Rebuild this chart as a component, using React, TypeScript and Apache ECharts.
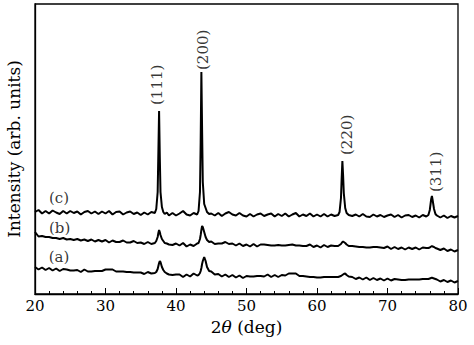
import React, { useEffect, useRef } from "react";
import * as echarts from "echarts";

const twoTheta = [
  20, 20.5, 21, 21.5, 22, 22.5, 23, 23.5, 24, 24.5, 25, 25.5, 26, 26.5, 27, 27.5, 28, 28.5, 29, 29.5,
  30, 30.5, 31, 31.5, 32, 32.5, 33, 33.5, 34, 34.5, 35, 35.5, 36, 36.5,
  37, 37.2, 37.4, 37.5, 37.6, 37.7, 37.8, 38, 38.2, 38.4, 38.7,
  39, 39.5, 40, 40.5, 41, 41.5, 42, 42.5, 43,
  43.2, 43.4, 43.5, 43.6, 43.7, 43.8, 44, 44.2, 44.4, 44.7,
  45, 45.5, 46, 46.5, 47, 47.5, 48, 48.5, 49, 49.5, 50, 50.5, 51, 51.5, 52, 52.5, 53, 53.5,
  54, 54.5, 55, 55.5, 56, 56.5, 57, 57.5, 58, 58.5, 59, 59.5, 60, 60.5, 61, 61.5, 62, 62.5,
  63, 63.2, 63.4, 63.5, 63.6, 63.7, 63.8, 64, 64.2, 64.5,
  65, 65.5, 66, 66.5, 67, 67.5, 68, 68.5, 69, 69.5, 70, 70.5, 71, 71.5, 72, 72.5, 73, 73.5,
  74, 74.5, 75, 75.5,
  75.8, 76, 76.2, 76.3, 76.4, 76.6, 76.8,
  77, 77.5, 78, 78.5, 79, 79.5, 80,
];

const intensityC = [
  82, 84, 80.5, 83, 80.5, 83.5, 81.5, 80, 83, 80.5, 83, 81, 82.5, 79.5, 82, 83, 80.5, 82.5, 80, 82.5,
  80.5, 83, 79.5, 82, 82.5, 79.5, 81.5, 82.5, 80, 81.5, 79, 81.5, 79.5, 82,
  81, 85, 102, 142, 183, 138, 102, 87, 82, 80, 81.5,
  78.5, 81, 78.5, 80.5, 83, 79.5, 78.5, 81, 79.5,
  83, 102, 152, 222, 165, 112, 90, 86, 82, 80,
  80.5, 78.5, 81, 78, 80.5, 82, 79.5, 78.5, 81, 78.5, 77.5, 80, 77.5, 79.5, 80.5, 78, 79.5, 80.5,
  77.5, 80, 78, 80.5, 77.5, 79.5, 81, 77.5, 79.5, 78, 80.5, 77.5, 79.5, 77.5, 80, 77.5, 79.5, 78,
  79, 82, 96, 116, 133, 119, 101, 86, 81, 79,
  78, 79.5, 77.5, 80, 77.5, 77, 79.5, 77.5, 79, 77, 78.5, 79.5, 77, 79, 76.5, 78.5, 79, 77,
  78.5, 76.5, 79, 77.5,
  79, 84, 95, 98, 94, 85, 80,
  78.5, 76.5, 78.5, 76, 78, 76.5, 78,
];

const intensityB = [
  62, 57.5, 58, 57, 57, 56, 56, 55, 56, 54.5, 55, 54, 55, 53.5, 54.5, 53, 54.5, 52.5, 54, 52.5,
  54, 51.5, 53.5, 52, 52, 53.5, 51.5, 51.5, 53, 51, 51.5, 50, 52, 50,
  51, 53, 57, 61, 64, 62, 59, 55, 53, 51, 50.5,
  49.5, 49, 50.5, 48.5, 51, 47.5, 49.5, 48, 50.5,
  51, 55, 59, 64, 68, 67, 62, 57, 54, 52,
  52.5, 50, 50.5, 50.5, 52, 50, 50.5, 48.5, 50.5, 48, 49.5, 47.5, 50, 47.5, 49.5, 49.5, 49, 48.5,
  48.5, 49, 48.5, 48.5, 49, 49.5, 48.5, 48.5, 48, 48, 49.5, 47, 48.5, 46.5, 49, 47, 48.5, 48,
  48, 49, 50, 51, 52, 52.5, 52, 51, 49.5, 48,
  48, 47.5, 47, 47, 46.5, 46.5, 47, 47, 46.5, 46, 47.5, 45, 47, 45, 46.5, 44.5, 46.5, 45,
  46.5, 44.5, 46.5, 46,
  46, 46.5, 47.5, 48, 47.5, 47, 46,
  45.5, 44, 45.5, 43, 44.5, 42.5, 44,
];

const intensityA = [
  27, 24.5, 26.5, 24, 26, 23.5, 25.5, 23, 25, 24.5, 23.5, 23.5, 24, 22, 24.5, 22.5, 22.5, 23, 23, 23,
  24.5, 24.5, 24.5, 22.5, 22.5, 22.5, 22, 22, 21.5, 21.5, 21.5, 20, 22, 20.5,
  21, 22, 25, 28, 31, 33, 32, 27, 24, 22, 20.5,
  19.5, 19, 19.5, 19.5, 17, 19.5, 17.5, 20.5, 18.5,
  19, 21, 23, 26, 30, 33, 37, 33, 27, 23,
  22.5, 19.5, 20, 17.5, 19.5, 17, 19, 16.5, 18.5, 16, 18, 17.5, 17.5, 18, 18, 17.5, 19.5, 17,
  19, 17, 19, 18.5, 20.5, 20.5, 20.5, 18, 18, 17.5, 17, 17, 16.5, 16.5, 17, 17, 17, 17,
  17, 17.5, 18, 18.5, 19, 19.5, 20, 20.5, 19, 17.5,
  17, 15, 16.5, 14.5, 16.5, 14, 16, 14, 15.5, 13.5, 15.5, 13.5, 15, 14.5, 14, 14, 14.5, 14.5,
  14.5, 14.5, 15, 15,
  15, 15.5, 16, 16.5, 16, 15.5, 15,
  14.5, 12.5, 14, 12, 13.5, 11.5, 13,
];

const curveNames = ["(a)", "(b)", "(c)"];
const curveLabelTheta = [23.4, 23.5, 23.4];
const curveLabelIntensity = [37, 66, 96];

const peakNames = ["(111)", "(200)", "(220)", "(311)"];
const peakLabelTheta = [37.3, 43.8, 64.3, 76.9];
const peakLabelIntensity = [189, 224, 139, 102];

const xTicks = { min: 20, max: 80, interval: 10 };

const FONT = "DejaVu Serif";

export default function App() {
  const ref = useRef<HTMLDivElement>(null);
  useEffect(() => {
    if (!ref.current) return;
    document.body.style.margin = "0";
    const chart = echarts.init(ref.current, undefined, { renderer: "svg" });
    const zip = (ys: number[]) => twoTheta.map((x, i) => [x, ys[i]]);
    const lineStyle = { color: "#000", width: 2 };
    const mk = (name: string, ys: number[]) => ({
      name,
      type: "line",
      data: zip(ys),
      symbol: "none",
      lineStyle,
      silent: true,
    });
    chart.setOption({
      animation: false,
      backgroundColor: "#fff",
      grid: {
        left: 35,
        right: 16,
        top: 4,
        bottom: 51,
        outerBoundsMode: "none",
        show: true,
        borderColor: "#000",
        borderWidth: 1.3,
      },
      xAxis: {
        type: "value",
        min: xTicks.min,
        max: xTicks.max,
        interval: xTicks.interval,
        axisLine: { show: true, lineStyle: { color: "#000", width: 1.3 } },
        axisTick: { show: true, inside: true, length: 6, lineStyle: { color: "#000" } },
        minorTick: { show: true, splitNumber: 5, length: 3, lineStyle: { color: "#000" } },
        splitLine: { show: false },
        axisLabel: { color: "#000", fontFamily: FONT, fontSize: 15, margin: 4 },
        name: "2{i|θ} (deg)",
        nameLocation: "middle",
        nameGap: 24,
        nameTextStyle: {
          color: "#000",
          fontFamily: FONT,
          fontSize: 17,
          rich: { i: { fontStyle: "italic", fontFamily: FONT, fontSize: 17, color: "#000" } },
        },
      },
      yAxis: {
        type: "value",
        min: 0,
        max: 290,
        axisLine: { show: true, lineStyle: { color: "#000", width: 1.3 } },
        axisTick: { show: false },
        axisLabel: { show: false },
        splitLine: { show: false },
        name: "Intensity (arb. units)",
        nameLocation: "middle",
        nameGap: 13,
        nameRotate: 90,
        nameTextStyle: { color: "#000", fontFamily: FONT, fontSize: 17 },
      },
      series: [
        mk("a", intensityA),
        mk("b", intensityB),
        mk("c", intensityC),
        {
          type: "scatter",
          symbolSize: 0,
          silent: true,
          data: curveNames.map((n, i) => ({ value: [curveLabelTheta[i], curveLabelIntensity[i]], name: n })),
          label: {
            show: true,
            position: [0, 0],
            align: "center",
            verticalAlign: "middle",
            formatter: (p: any) => p.name,
            color: "#000",
            fontFamily: FONT,
            fontSize: 15,
          },
        },
        {
          type: "scatter",
          symbolSize: 0,
          silent: true,
          data: peakNames.map((n, i) => ({ value: [peakLabelTheta[i], peakLabelIntensity[i]], name: n })),
          label: {
            show: true,
            position: [0, 0],
            rotate: 90,
            align: "left",
            verticalAlign: "middle",
            formatter: (p: any) => p.name,
            color: "#000",
            fontFamily: FONT,
            fontSize: 15,
          },
        },
      ],
    });
    return () => chart.dispose();
  }, []);
  return (
    <div
      ref={ref}
      style={{ position: "absolute", left: 0, top: 0, width: 474, height: 345 }}
    />
  );
}
